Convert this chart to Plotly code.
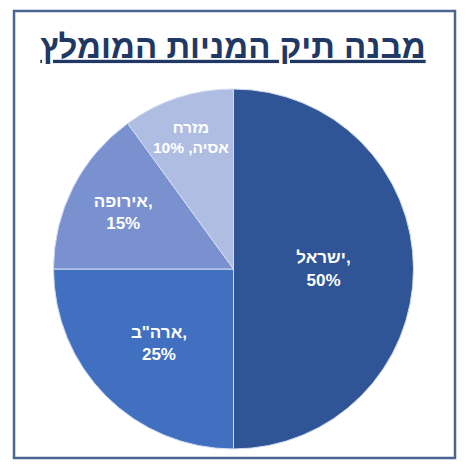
import plotly.graph_objects as go

# Recommended share portfolio structure
labels = ["ישראל", 'ארה"ב', "אירופה", "מזרח אסיה"]
values = [50, 25, 15, 10]
# LRI ... PDI keep the comma on the right-hand side of the word, as in the original
slice_text = ["\u2066ישראל,\u2069<br>50%", '\u2066ארה"ב,\u2069<br>25%', "\u2066אירופה,\u2069<br>15%", "מזרח<br>אסיה, 10%"]
colors = ["#2F5597", "#4170C0", "#7A91D0", "#B0BDE2"]

fig = go.Figure()

fig.add_trace(go.Pie(
    labels=labels,
    values=values,
    text=["<b>" + t.replace("<br>", "</b><br><b>") + "</b>" for t in slice_text],
    textinfo="text",
    textposition="inside",
    insidetextorientation="horizontal",
    textfont=dict(family="Liberation Sans, Arial", size=17, color="white"),
    marker=dict(colors=colors, line=dict(color="#D3DCF0", width=1)),
    sort=False,
    direction="clockwise",
    rotation=0,
    hoverinfo="label+percent",
))

fig.update_layout(
    width=466,
    height=472,
    margin=dict(l=53, r=52, t=89, b=23),
    paper_bgcolor="white",
    plot_bgcolor="white",
    showlegend=False,
    title=dict(
        text="<b><u>מבנה תיק המניות המומלץ</u></b>",
        x=0.5,
        xanchor="center",
        y=0.902,
        yanchor="middle",
        font=dict(family="Liberation Sans, Arial", size=33, color="#1F3864"),
    ),
    # frame around the whole chart
    shapes=[dict(
        type="rect", xref="paper", yref="paper",
        x0=-0.108, x1=1.1136, y0=-0.025, y1=1.2167,
        line=dict(color="#4A6591", width=2.5),
        fillcolor="rgba(0,0,0,0)",
    )],
)

fig.write_html("out.html", config={"displayModeBar": False},
               post_script="document.body.style.margin='0';")
